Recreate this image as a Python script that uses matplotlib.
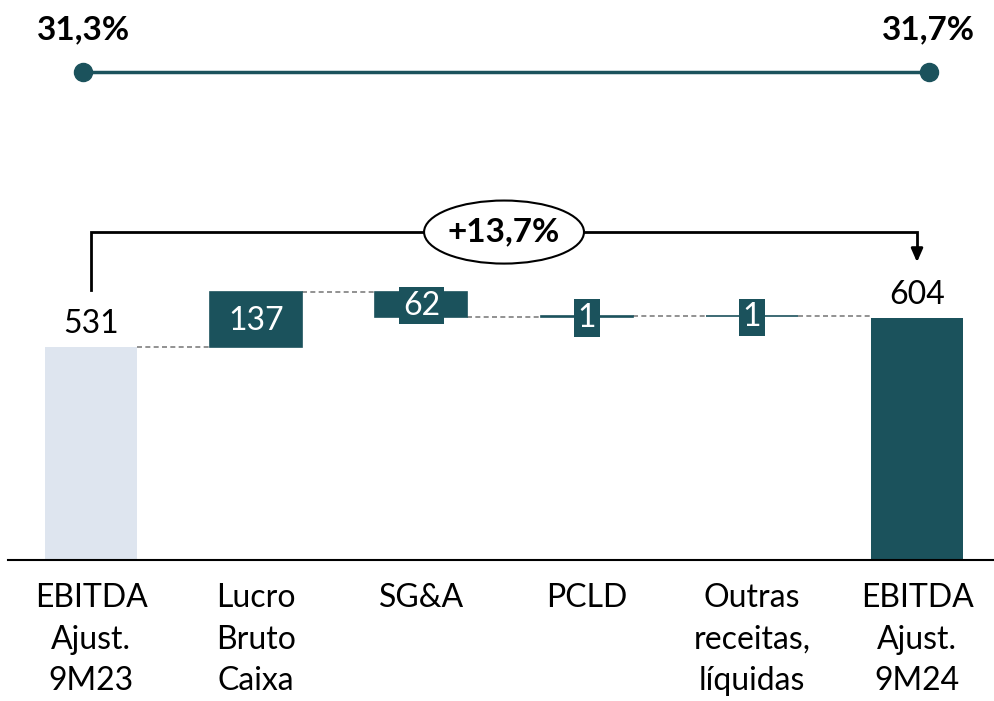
import numpy as np
import matplotlib.pyplot as plt
from matplotlib.patches import Ellipse

# dados
categorias = ['EBITDA\nAjust.\n9M23', 'Lucro\nBruto\nCaixa', 'SG&A', 'PCLD',
              'Outras\nreceitas,\nlíquidas', 'EBITDA\nAjust.\n9M24']
ebitda_inicio = 531
variacoes = [137, -62, 1, 1]
rotulos_var = ['137', '62', '1', '1']
ebitda_fim = 604
margem_inicio = '31,3%'
margem_fim = '31,7%'
crescimento = '+13,7%'

TEAL = '#1B525C'
CLARO = '#DEE5EF'
CINZA = '#7F7F7F'

plt.rcParams['font.family'] = ['Lato', 'DejaVu Sans']

fig = plt.figure(figsize=(9.95, 7.01), dpi=100)
ax = fig.add_axes([0, 0, 1, 1])
ax.set_xlim(-0.551, 5.472)
ax.set_ylim(-351, 1395)
ax.axis('off')

largura = 0.557
n = len(categorias)
x = np.arange(n)

# barras iniciais e finais
ax.bar(x[0], ebitda_inicio, width=largura, color=CLARO, zorder=2)
ax.bar(x[-1], ebitda_fim, width=largura, color=TEAL, zorder=2)

# barras de variacao
nivel = ebitda_inicio
niveis = [ebitda_inicio]
for i, (v, rot) in enumerate(zip(variacoes, rotulos_var), start=1):
    base = nivel if v >= 0 else nivel + v
    ax.bar(x[i], abs(v), bottom=base, width=largura, color=TEAL,
           edgecolor=TEAL, linewidth=1.2, zorder=2)
    ax.text(x[i], base + abs(v) / 2 - 3, rot, color='white', fontsize=23,
            ha='center', va='center', zorder=4,
            bbox=dict(boxstyle='square,pad=0.12', fc=TEAL, ec='none'))
    nivel += v
    niveis.append(nivel)

# linhas tracejadas de conexao
for i in range(n - 1):
    ax.plot([x[i] + largura / 2, x[i + 1] - largura / 2], [niveis[i], niveis[i]],
            color=CINZA, lw=1.2, ls=(0, (3, 2)), zorder=1)

# rotulos dos totais
ax.text(x[0], ebitda_inicio + 20, str(ebitda_inicio), fontsize=23,
        ha='center', va='bottom')
ax.text(x[-1], ebitda_fim + 20, str(ebitda_fim), fontsize=23,
        ha='center', va='bottom')

# eixo base
ax.axhline(0, xmin=0.008, xmax=1, color='black', lw=1.5, zorder=3)

# categorias
for xi, cat in zip(x, categorias):
    ax.text(xi, -58, cat, fontsize=23, ha='center', va='top', linespacing=1.47)

# colchete de crescimento
topo = 817
ax.plot([x[0], x[0], x[-1], x[-1]],
        [ebitda_inicio + 141, topo, topo, ebitda_fim + 160],
        color='black', lw=2, zorder=3, solid_joinstyle='miter')
ax.annotate('', xy=(x[-1], ebitda_fim + 138), xytext=(x[-1], ebitda_fim + 170),
            arrowprops=dict(arrowstyle='-|>,head_width=0.35,head_length=0.8',
                            color='black', lw=2, shrinkA=0, shrinkB=0))
meio = 2.5
ax.add_patch(Ellipse((meio, topo), 0.968, 157, fc='white', ec='black',
                     lw=1.5, zorder=4))
ax.text(meio, topo, crescimento, fontsize=24, fontweight='bold',
        ha='center', va='center', zorder=5)

# margens
y_margem = 1215
x_margem = [-0.048, 5.07]
ax.plot(x_margem, [y_margem, y_margem], color=TEAL, lw=2.5,
        marker='o', markersize=13, zorder=3)
ax.text(x_margem[0], y_margem + 105, margem_inicio, fontsize=24,
        fontweight='bold', ha='center', va='center')
ax.text(x_margem[1], y_margem + 105, margem_fim, fontsize=24,
        fontweight='bold', ha='center', va='center')

fig.savefig('out.png', dpi=100)
